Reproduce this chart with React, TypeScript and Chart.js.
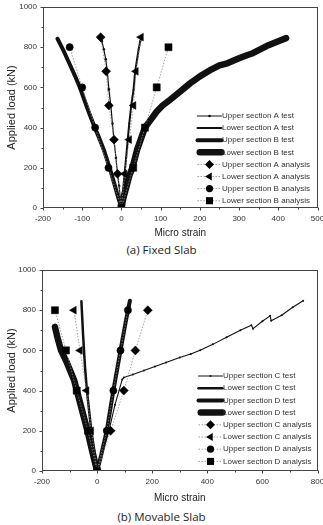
import React, { useEffect, useRef } from 'react';
import { Chart, registerables } from 'chart.js';

Chart.register(...registerables);
Chart.defaults.font.family = '"Liberation Sans", Arial, sans-serif';

// ---------- (a) Fixed Slab ----------
const fixedUpperATestStrain = [0, -3, -6, -10, -14, -19, -23, -27, -32, -36, -40, -45, -50, -53];
const fixedUpperATestLoad = [0, 50, 110, 170, 250, 340, 420, 510, 590, 680, 740, 790, 830, 850];
const fixedLowerATestStrain = [0, 4, 8, 12, 16, 20, 25, 31, 35, 40, 44, 48, 52];
const fixedLowerATestLoad = [0, 80, 170, 250, 340, 420, 510, 590, 680, 740, 790, 830, 850];
const fixedUpperBTestStrain = [0, -8, -18, -30, -45, -57, -68, -82, -95, -106, -119, -133, -147, -156, -163];
const fixedUpperBTestLoad = [0, 50, 120, 200, 290, 350, 400, 470, 540, 600, 660, 720, 780, 815, 842];
const fixedLowerBTestStrain = [0, 5, 12, 20, 28, 40, 50, 60, 75, 90, 105, 125, 150, 175, 200, 230, 250, 270, 300, 320, 335, 350, 375, 400, 420];
const fixedLowerBTestLoad = [0, 50, 100, 160, 200, 290, 345, 400, 440, 480, 510, 540, 580, 620, 655, 690, 710, 720, 745, 760, 770, 785, 810, 830, 845];
const fixedUpperAAnalysisStrain = [0, -10, -19, -32, -39, -53];
const fixedUpperAAnalysisLoad = [0, 170, 340, 510, 680, 850];
const fixedLowerAAnalysisStrain = [0, 8, 20, 31, 37, 50];
const fixedLowerAAnalysisLoad = [0, 170, 340, 510, 680, 850];
const fixedUpperBAnalysisStrain = [0, -33, -67, -100, -132];
const fixedUpperBAnalysisLoad = [0, 200, 400, 600, 800];
const fixedLowerBAnalysisStrain = [0, 30, 60, 90, 120];
const fixedLowerBAnalysisLoad = [0, 200, 400, 600, 800];

// ---------- (b) Movable Slab ----------
const movUpperCTestStrain = [0, 20, 43, 65, 91, 97, 130, 170, 210, 250, 300, 340, 374, 420, 470, 520, 560, 566, 600, 628, 632, 670, 710, 748];
const movUpperCTestLoad = [0, 90, 200, 330, 455, 465, 480, 500, 520, 540, 565, 582, 601, 630, 665, 700, 725, 708, 745, 772, 748, 775, 815, 847];
const movLowerCTestStrain = [0, -10, -21, -29, -37, -44, -51, -57];
const movLowerCTestLoad = [0, 100, 200, 300, 400, 520, 680, 845];
const movUpperDTestStrain = [0, 15, 35, 59, 85, 105, 119];
const movUpperDTestLoad = [0, 80, 200, 400, 600, 750, 847];
const movLowerDTestStrain = [0, -18, -35, -60, -83, -110, -131, -145, -153];
const movLowerDTestLoad = [0, 100, 200, 330, 450, 540, 600, 670, 717];
const movUpperCAnalysisStrain = [0, 49, 97, 139, 184];
const movUpperCAnalysisLoad = [0, 200, 400, 600, 800];
const movLowerCAnalysisStrain = [0, -21, -38, -62, -84];
const movLowerCAnalysisLoad = [0, 200, 400, 600, 800];
const movUpperDAnalysisStrain = [0, 35, 59, 85, 112];
const movUpperDAnalysisLoad = [0, 200, 400, 600, 800];
const movLowerDAnalysisStrain = [0, -33, -74, -113, -153];
const movLowerDAnalysisLoad = [0, 200, 400, 600, 800];

const pts = (xs: number[], ys: number[]) => xs.map((x, i) => ({ x, y: ys[i] }));

const testStyle = (w: number, pr: number) => ({
  borderColor: '#111',
  backgroundColor: '#111',
  borderWidth: w,
  pointRadius: pr,
  pointStyle: 'circle',
  pointBackgroundColor: '#111',
  pointBorderWidth: 0,
  borderCapStyle: 'round',
  borderJoinStyle: 'round',
  showLine: true,
  order: 1,
});

const analysisStyle = (style: string, r: number, rot = 0) => ({
  borderColor: '#8a8a8a',
  backgroundColor: '#000',
  borderWidth: 0.8,
  borderDash: [1.5, 1.5],
  pointStyle: style,
  pointRadius: r,
  pointRotation: rot,
  pointBackgroundColor: '#000',
  pointBorderColor: '#000',
  pointBorderWidth: 0.5,
  showLine: true,
  order: 0,
});

function drawMarker(ctx: CanvasRenderingContext2D, style: string, x: number, y: number, r: number, rot: number) {
  ctx.beginPath();
  if (style === 'rect') {
    const s = r * Math.SQRT1_2;
    ctx.rect(x - s, y - s, 2 * s, 2 * s);
  } else if (style === 'rectRot') {
    ctx.moveTo(x, y - r);
    ctx.lineTo(x + r, y);
    ctx.lineTo(x, y + r);
    ctx.lineTo(x - r, y);
    ctx.closePath();
  } else if (style === 'triangle') {
    const rad = (rot * Math.PI) / 180;
    for (let k = 0; k < 3; k++) {
      const an = rad + (k * 2 * Math.PI) / 3;
      const px = x + Math.sin(an) * r;
      const py = y - Math.cos(an) * r;
      if (k === 0) ctx.moveTo(px, py);
      else ctx.lineTo(px, py);
    }
    ctx.closePath();
  } else {
    ctx.arc(x, y, r, 0, Math.PI * 2);
  }
  ctx.fill();
}

const decorPlugin = {
  id: 'decor',
  afterDraw(chart: any, _args: any, opts: any) {
    const { ctx, chartArea: a } = chart;
    const xs = chart.scales.x;
    const ys = chart.scales.y;
    ctx.save();
    ctx.strokeStyle = '#444';
    ctx.lineWidth = 1;
    const L = Math.round(a.left) + 0.5;
    const T = Math.round(a.top) + 0.5;
    const R = Math.round(a.right) - 0.5;
    const B = Math.round(a.bottom) - 0.5;
    ctx.strokeRect(L, T, R - L, B - T);
    ctx.beginPath();
    for (let v = xs.min; v <= xs.max + 1e-6; v += opts.xMinor) {
      const px = Math.round(xs.getPixelForValue(v)) + 0.5;
      const major = Math.abs(v % opts.xMajor) < 1e-6;
      ctx.moveTo(px, B);
      ctx.lineTo(px, B + (major ? 3 : 2));
    }
    for (let v = ys.min; v <= ys.max + 1e-6; v += opts.yMinor) {
      const py = Math.round(ys.getPixelForValue(v)) + 0.5;
      const major = Math.abs(v % opts.yMajor) < 1e-6;
      ctx.moveTo(L, py);
      ctx.lineTo(L - (major ? 3 : 2), py);
    }
    ctx.stroke();
    const lx = a.right - opts.legendDx;
    const ly0 = a.bottom - opts.legendDyTop;
    chart.data.datasets.forEach((d: any, i: number) => {
      const yy = ly0 + i * opts.legendStep;
      ctx.save();
      ctx.strokeStyle = d.borderColor;
      ctx.lineWidth = d.borderWidth;
      ctx.setLineDash(d.borderDash || []);
      ctx.lineCap = d.borderCapStyle || 'butt';
      ctx.beginPath();
      ctx.moveTo(lx + (d.borderWidth > 4 ? d.borderWidth / 2 - 1 : 0), yy);
      ctx.lineTo(lx + 24, yy);
      ctx.stroke();
      ctx.restore();
      if (d.pointRadius > 0) {
        ctx.fillStyle = d.pointBackgroundColor || '#000';
        drawMarker(ctx, d.pointStyle, lx + 12, yy, d.pointRadius, d.pointRotation || 0);
      }
      ctx.fillStyle = '#333';
      ctx.font = '8px "Liberation Sans", Arial, sans-serif';
      ctx.textBaseline = 'middle';
      ctx.textAlign = 'left';
      ctx.fillText(d.label, lx + 24.5, yy);
    });
    ctx.restore();
  },
};

type Props = {
  datasets: any[];
  xMin: number;
  xMax: number;
  xMajor: number;
  xMinor: number;
  height: number;
  padTop: number;
  yAxisWidth: number;
  xAxisHeight: number;
  xTitlePad: number;
  legendDx: number;
  legendDyTop: number;
  legendStep: number;
};

function SlabChart(p: Props) {
  const ref = useRef<HTMLCanvasElement>(null);
  useEffect(() => {
    const chart = new Chart(ref.current as HTMLCanvasElement, {
      type: 'scatter',
      data: { datasets: p.datasets },
      plugins: [decorPlugin as any],
      options: {
        animation: false,
        responsive: false,
        maintainAspectRatio: false,
        events: [],
        layout: { padding: { top: p.padTop, right: 5, left: 0, bottom: 0 } },
        plugins: {
          legend: { display: false },
          tooltip: { enabled: false },
          decor: {
            xMajor: p.xMajor,
            xMinor: p.xMinor,
            yMajor: 200,
            yMinor: 100,
            legendDx: p.legendDx,
            legendDyTop: p.legendDyTop,
            legendStep: p.legendStep,
          },
        } as any,
        scales: {
          x: {
            type: 'linear',
            min: p.xMin,
            max: p.xMax,
            grid: { display: false, drawTicks: false },
            border: { display: false },
            ticks: {
              stepSize: p.xMajor,
              autoSkip: false,
              maxRotation: 0,
              padding: 6,
              color: '#333',
              font: { size: 8 },
              callback: (v: any) => String(v),
            },
            title: {
              display: true,
              text: 'Micro strain',
              color: '#222',
              font: { size: 10 },
              padding: { top: 2, bottom: p.xTitlePad },
            },
            afterFit: (s: any) => {
              s.height = p.xAxisHeight;
              s.paddingLeft = 0;
              s.paddingRight = 0;
            },
          },
          y: {
            type: 'linear',
            min: 0,
            max: 1000,
            grid: { display: false, drawTicks: false },
            border: { display: false },
            ticks: {
              stepSize: 200,
              padding: 6,
              color: '#333',
              font: { size: 8 },
              callback: (v: any) => String(v),
            },
            title: {
              display: true,
              text: 'Applied load (kN)',
              color: '#222',
              font: { size: 11 },
              padding: { top: 5, bottom: 2 },
            },
            afterFit: (s: any) => {
              s.width = p.yAxisWidth;
              s.paddingTop = 0;
              s.paddingBottom = 0;
            },
          },
        },
      } as any,
    });
    return () => chart.destroy();
  }, []);
  return <canvas ref={ref} width={323} height={p.height} style={{ display: 'block', width: 323, height: p.height }} />;
}

const fixedDatasets = [
  { label: 'Upper section A test', data: pts(fixedUpperATestStrain, fixedUpperATestLoad), ...testStyle(1.2, 1.3) },
  { label: 'Lower section A test', data: pts(fixedLowerATestStrain, fixedLowerATestLoad), ...testStyle(2, 1) },
  { label: 'Upper section B test', data: pts(fixedUpperBTestStrain, fixedUpperBTestLoad), ...testStyle(4, 0) },
  { label: 'Lower section B test', data: pts(fixedLowerBTestStrain, fixedLowerBTestLoad), ...testStyle(6.5, 0) },
  { label: 'Upper section A analysis', data: pts(fixedUpperAAnalysisStrain, fixedUpperAAnalysisLoad), ...analysisStyle('rectRot', 4.5) },
  { label: 'Lower section A analysis', data: pts(fixedLowerAAnalysisStrain, fixedLowerAAnalysisLoad), ...analysisStyle('triangle', 4.5, -90) },
  { label: 'Upper section B analysis', data: pts(fixedUpperBAnalysisStrain, fixedUpperBAnalysisLoad), ...analysisStyle('circle', 3.6) },
  { label: 'Lower section B analysis', data: pts(fixedLowerBAnalysisStrain, fixedLowerBAnalysisLoad), ...analysisStyle('rect', 5) },
];

const movableDatasets = [
  { label: 'Upper section C test', data: pts(movUpperCTestStrain, movUpperCTestLoad), ...testStyle(1.1, 1) },
  { label: 'Lower section C test', data: pts(movLowerCTestStrain, movLowerCTestLoad), ...testStyle(2.5, 0) },
  { label: 'Upper section D test', data: pts(movUpperDTestStrain, movUpperDTestLoad), ...testStyle(4, 0) },
  { label: 'Lower section D test', data: pts(movLowerDTestStrain, movLowerDTestLoad), ...testStyle(6.5, 0) },
  { label: 'Upper section C analysis', data: pts(movUpperCAnalysisStrain, movUpperCAnalysisLoad), ...analysisStyle('rectRot', 4.5) },
  { label: 'Lower section C analysis', data: pts(movLowerCAnalysisStrain, movLowerCAnalysisLoad), ...analysisStyle('triangle', 4.5, -90) },
  { label: 'Upper section D analysis', data: pts(movUpperDAnalysisStrain, movUpperDAnalysisLoad), ...analysisStyle('circle', 3.6) },
  { label: 'Lower section D analysis', data: pts(movLowerDAnalysisStrain, movLowerDAnalysisLoad), ...analysisStyle('rect', 5) },
];

const captionStyle: React.CSSProperties = {
  position: 'absolute',
  left: 0,
  width: 323,
  textAlign: 'center',
  fontFamily: '"Open Sans", sans-serif',
  fontSize: 11.5,
  lineHeight: '14px',
  color: '#222',
};

export default function App() {
  return (
    <div style={{ position: 'absolute', left: 0, top: 0, width: 323, height: 525, background: '#fff', overflow: 'hidden' }}>
      <div style={{ position: 'absolute', left: 0, top: 0 }}>
        <SlabChart
          datasets={fixedDatasets}
          xMin={-200}
          xMax={500}
          xMajor={100}
          xMinor={50}
          height={242}
          padTop={7}
          yAxisWidth={43}
          xAxisHeight={34}
          xTitlePad={3}
          legendDx={120}
          legendDyTop={92}
          legendStep={12.1}
        />
      </div>
      <div style={{ ...captionStyle, top: 243 }}>(a) Fixed Slab</div>
      <div style={{ position: 'absolute', left: 0, top: 260 }}>
        <SlabChart
          datasets={movableDatasets}
          xMin={-200}
          xMax={800}
          xMajor={200}
          xMinor={100}
          height={245}
          padTop={10}
          yAxisWidth={42}
          xAxisHeight={34}
          xTitlePad={1}
          legendDx={119}
          legendDyTop={95}
          legendStep={12.2}
        />
      </div>
      <div style={{ ...captionStyle, top: 510 }}>(b) Movable Slab</div>
    </div>
  );
}
